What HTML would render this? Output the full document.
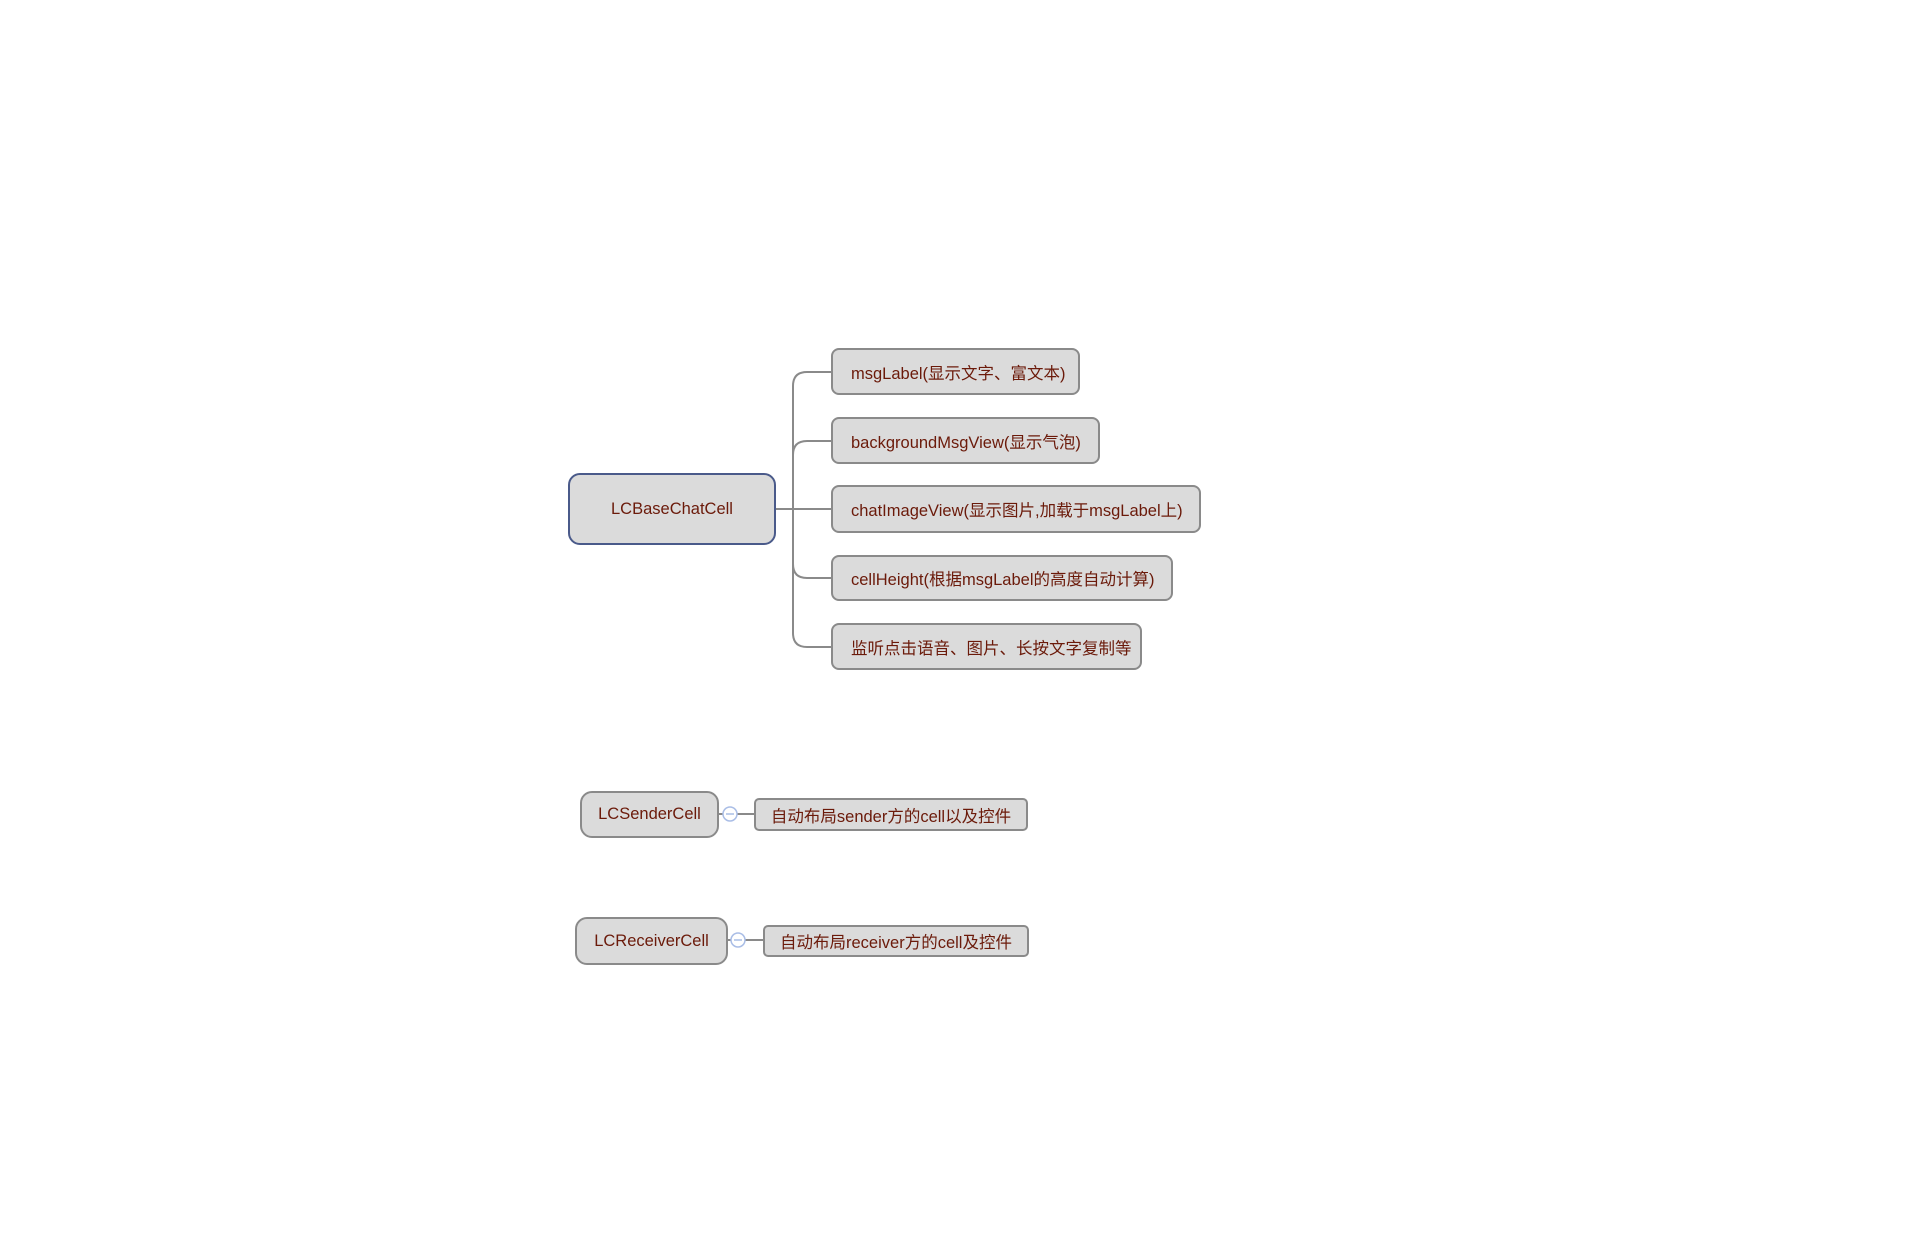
<!DOCTYPE html>
<html><head><meta charset="utf-8"><style>
body{margin:0;width:1910px;height:1256px;background:#fff;position:relative;overflow:hidden;font-family:"Liberation Sans","Noto Sans CJK SC",sans-serif;}
.n{position:absolute;box-sizing:border-box;background:#dbdbdb;border:2px solid #8a8a8a;border-radius:8px;color:#6b1a0a;font-size:16.5px;display:flex;align-items:center;padding-left:18px;white-space:nowrap;}
.c{justify-content:center;padding-left:0;}
svg{position:absolute;left:0;top:0;}
</style></head><body>
<svg width="1910" height="1256">
<g fill="none" stroke="#8a8a8a" stroke-width="2">
<path d="M776 509 H831"/>
<path d="M831 372 H807 Q793 372 793 386 V633 Q793 647 807 647 H831"/>
<path d="M793 455 Q793 441 807 441 H831"/>
<path d="M793 564 Q793 578 807 578 H831"/>
<path d="M737 814 H754"/>
<path d="M745 940 H763"/>
<path d="M719 814 H723 M728 940 H731"/>
</g>
<g fill="#fff" stroke="#a9bde6" stroke-width="1.5">
<circle cx="730" cy="814" r="7"/><path d="M726 814 H734"/>
<circle cx="738" cy="940" r="7"/><path d="M734 940 H742"/>
</g>
</svg>
<div class="n c" style="left:568px;top:473px;width:208px;height:72px;border-color:#4a5a8a;border-radius:12px">LCBaseChatCell</div>
<div class="n" style="left:831px;top:348px;width:249px;height:47px">msgLabel(显示文字、富文本)</div>
<div class="n" style="left:831px;top:417px;width:269px;height:47px">backgroundMsgView(显示气泡)</div>
<div class="n" style="left:831px;top:485px;width:370px;height:48px">chatImageView(显示图片,加载于msgLabel上)</div>
<div class="n" style="left:831px;top:555px;width:342px;height:46px">cellHeight(根据msgLabel的高度自动计算)</div>
<div class="n" style="left:831px;top:623px;width:311px;height:47px">监听点击语音、图片、长按文字复制等</div>
<div class="n c" style="left:580px;top:791px;width:139px;height:47px;border-radius:12px">LCSenderCell</div>
<div class="n c" style="left:754px;top:798px;width:274px;height:33px;border-radius:5px">自动布局sender方的cell以及控件</div>
<div class="n c" style="left:575px;top:917px;width:153px;height:48px;border-radius:12px">LCReceiverCell</div>
<div class="n c" style="left:763px;top:925px;width:266px;height:32px;border-radius:5px">自动布局receiver方的cell及控件</div>
</body></html>
